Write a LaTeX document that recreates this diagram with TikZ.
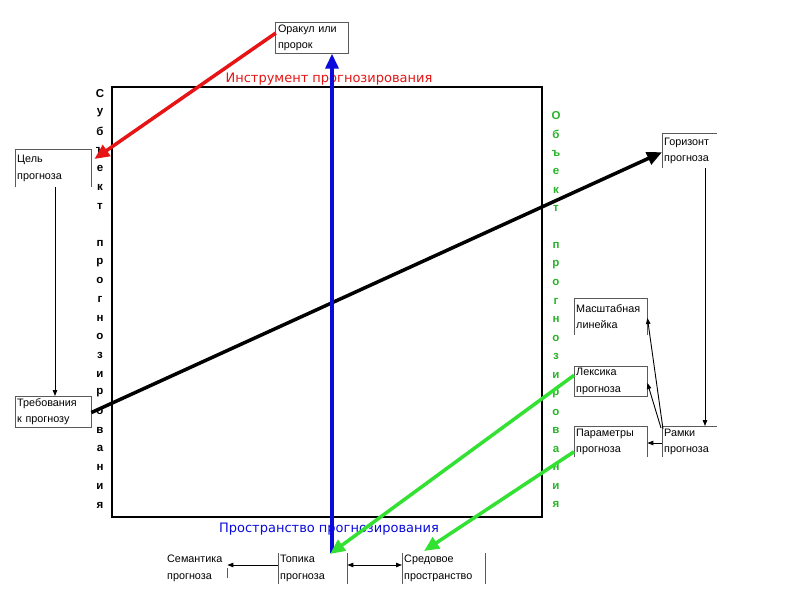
\documentclass[tikz,border=0pt]{standalone}
\usepackage{fontspec}
\setmainfont{Liberation Sans}
\newfontfamily\titlefont{DejaVu Sans}
\usetikzlibrary{arrows.meta,calc}
\definecolor{redA}{RGB}{230,20,20}
\definecolor{blueA}{RGB}{10,10,220}
\definecolor{greenA}{RGB}{50,225,50}
\definecolor{greenT}{RGB}{40,180,40}
\definecolor{boxline}{RGB}{90,90,90}
\tikzset{
  boxnode/.style={rectangle, inner sep=2pt, align=left, font=\fontsize{10.8}{16.5}\selectfont},
  edge/.style={draw=boxline, line width=0.8pt},
  bigarrow/.style={line width=3.5pt, -{Triangle[length=15pt,width=13pt]}},
  thinarrow/.style={line width=0.9pt, -{Triangle[length=6pt,width=4.5pt]}},
  vletter/.style={font=\fontsize{11.5}{11.5}\selectfont\bfseries, inner sep=0pt},
  bigtitle/.style={font=\titlefont\fontsize{13}{14}\selectfont, inner sep=0pt}
}
\begin{document}
\begin{tikzpicture}[x=1pt,y=-1pt]
\useasboundingbox (0,0) rectangle (800,600);
\fill[white] (0,0) rectangle (800,600);
% main square
\draw[line width=2.6pt] (112,87) rectangle (542,517);
% titles
\node[bigtitle, text=redA] (tinstr) at (329,79) {Инструмент прогнозирования};
\node[bigtitle, text=blueA] (tprostr) at (329,529) {Пространство прогнозирования};
% vertical words
\foreach \ch [count=\i from 0] in {С,у,б,ъ,е,к,т,{},п,р,о,г,н,о,з,и,р,о,в,а,н,и,я}
  \node[vletter] (sl\i) at (100,94+18.68*\i) {\ch};
\foreach \ch [count=\i from 0] in {О,б,ъ,е,к,т,{},п,р,о,г,н,о,з,и,р,о,в,а,н,и,я}
  \node[vletter, text=greenT] (sr\i) at (556,116+18.52*\i) {\ch};
% boxes
\node[boxnode, minimum width=72pt, minimum height=31pt, text width=68pt] (orakul) at (312,38) {Оракул или\\пророк};
\node[boxnode, minimum width=76pt, minimum height=38pt, text width=72pt, anchor=north west] (cel) at (15,149) {Цель\\прогноза};
\node[boxnode, minimum width=76pt, minimum height=30pt, text width=72pt, anchor=north west] (treb) at (15,396) {Требования\\к прогнозу};
\node[boxnode, minimum width=55pt, minimum height=35pt, text width=51pt, anchor=north west] (goriz) at (662,133) {Горизонт\\прогноза};
\node[boxnode, minimum width=73pt, minimum height=37pt, text width=69pt, anchor=north west] (masht) at (574,298) {Масштабная\\линейка};
\node[boxnode, minimum width=73pt, minimum height=30pt, text width=69pt, anchor=north west] (leks) at (574,366) {Лексика\\прогноза};
\node[boxnode, minimum width=73pt, minimum height=31pt, text width=69pt, anchor=north west] (param) at (574,426) {Параметры\\прогноза};
\node[boxnode, minimum width=55pt, minimum height=31pt, text width=51pt, anchor=north west] (ramki) at (662,426) {Рамки\\прогноза};
\node[boxnode, minimum width=60pt, minimum height=29pt, text width=58pt, anchor=north west] (sem) at (165,553) {Семантика\\прогноза};
\node[boxnode, minimum width=69pt, minimum height=29pt, text width=65pt, anchor=north west] (topika) at (278,553) {Топика\\прогноза};
\node[boxnode, minimum width=83pt, minimum height=29pt, text width=79pt, anchor=north west] (sred) at (402,553) {Средовое\\пространство};
% box borders (partial, as in the reference)
\draw[edge] (orakul.north west) rectangle (orakul.south east);
\draw[edge] (cel.south west) -- (cel.north west) -- (cel.north east) -- (cel.south east);
\draw[edge] (treb.north west) rectangle (treb.south east);
\draw[edge] (goriz.south west) -- (goriz.north west) -- (goriz.north east);
\draw[edge] (masht.south west) -- (masht.north west) -- (masht.north east) -- (masht.south east);
\draw[edge] (leks.north west) rectangle (leks.south east);
\draw[edge] (param.south west) -- (param.north west) -- (param.north east) -- (param.south east);
\draw[edge] (ramki.south west) -- (ramki.north west) -- (ramki.north east);
\draw[edge] ([yshift=-15pt]sem.north east) -- ([yshift=-25pt]sem.north east);
\draw[edge] (topika.north west) -- (topika.south west);
\draw[edge] (topika.north east) -- (topika.south east);
\draw[edge] (sred.north west) -- (sred.south west);
\draw[edge] (sred.north east) -- (sred.south east);
% thin connectors
\coordinate (celdown) at (55,187);
\draw[thinarrow] (celdown) -- (celdown |- treb.north);
\coordinate (gorizdown) at (705,168);
\draw[thinarrow] (gorizdown) -- (gorizdown |- ramki.north);
\draw[thinarrow] ([xshift=1pt,yshift=-3pt]ramki.north west) -- ([yshift=-20pt]masht.north east);
\draw[thinarrow] ([xshift=-1pt,yshift=-2pt]ramki.north west) -- ([yshift=-17pt]leks.north east);
\draw[thinarrow] ([yshift=-17pt]ramki.north west) -- ([yshift=-17pt]param.north east);
\draw[thinarrow] ([yshift=-12pt]topika.north west) -- ([yshift=-12pt]sem.north east);
\draw[line width=0.9pt, {Triangle[length=6pt,width=4.5pt]}-{Triangle[length=6pt,width=4.5pt]}] ([yshift=-12pt]topika.north east) -- ([yshift=-12pt]sred.north west);
% thick arrows
\draw[bigarrow, black] ([yshift=-1pt]treb.east) -- ([yshift=-1.5pt]goriz.west);
\coordinate (bluestart) at (332,553);
\draw[bigarrow, blueA] (bluestart) -- (bluestart |- orakul.south);
\draw[bigarrow, redA] ([yshift=5pt]orakul.west) -- ([xshift=3pt,yshift=-10pt]cel.north east);
\draw[bigarrow, greenA] ([yshift=6pt]leks.west) -- ([xshift=52pt,yshift=-1pt]topika.north west);
\draw[bigarrow, greenA] ([yshift=-10pt]param.west) -- ([xshift=22pt,yshift=2pt]sred.north west);
\end{tikzpicture}
\end{document}
